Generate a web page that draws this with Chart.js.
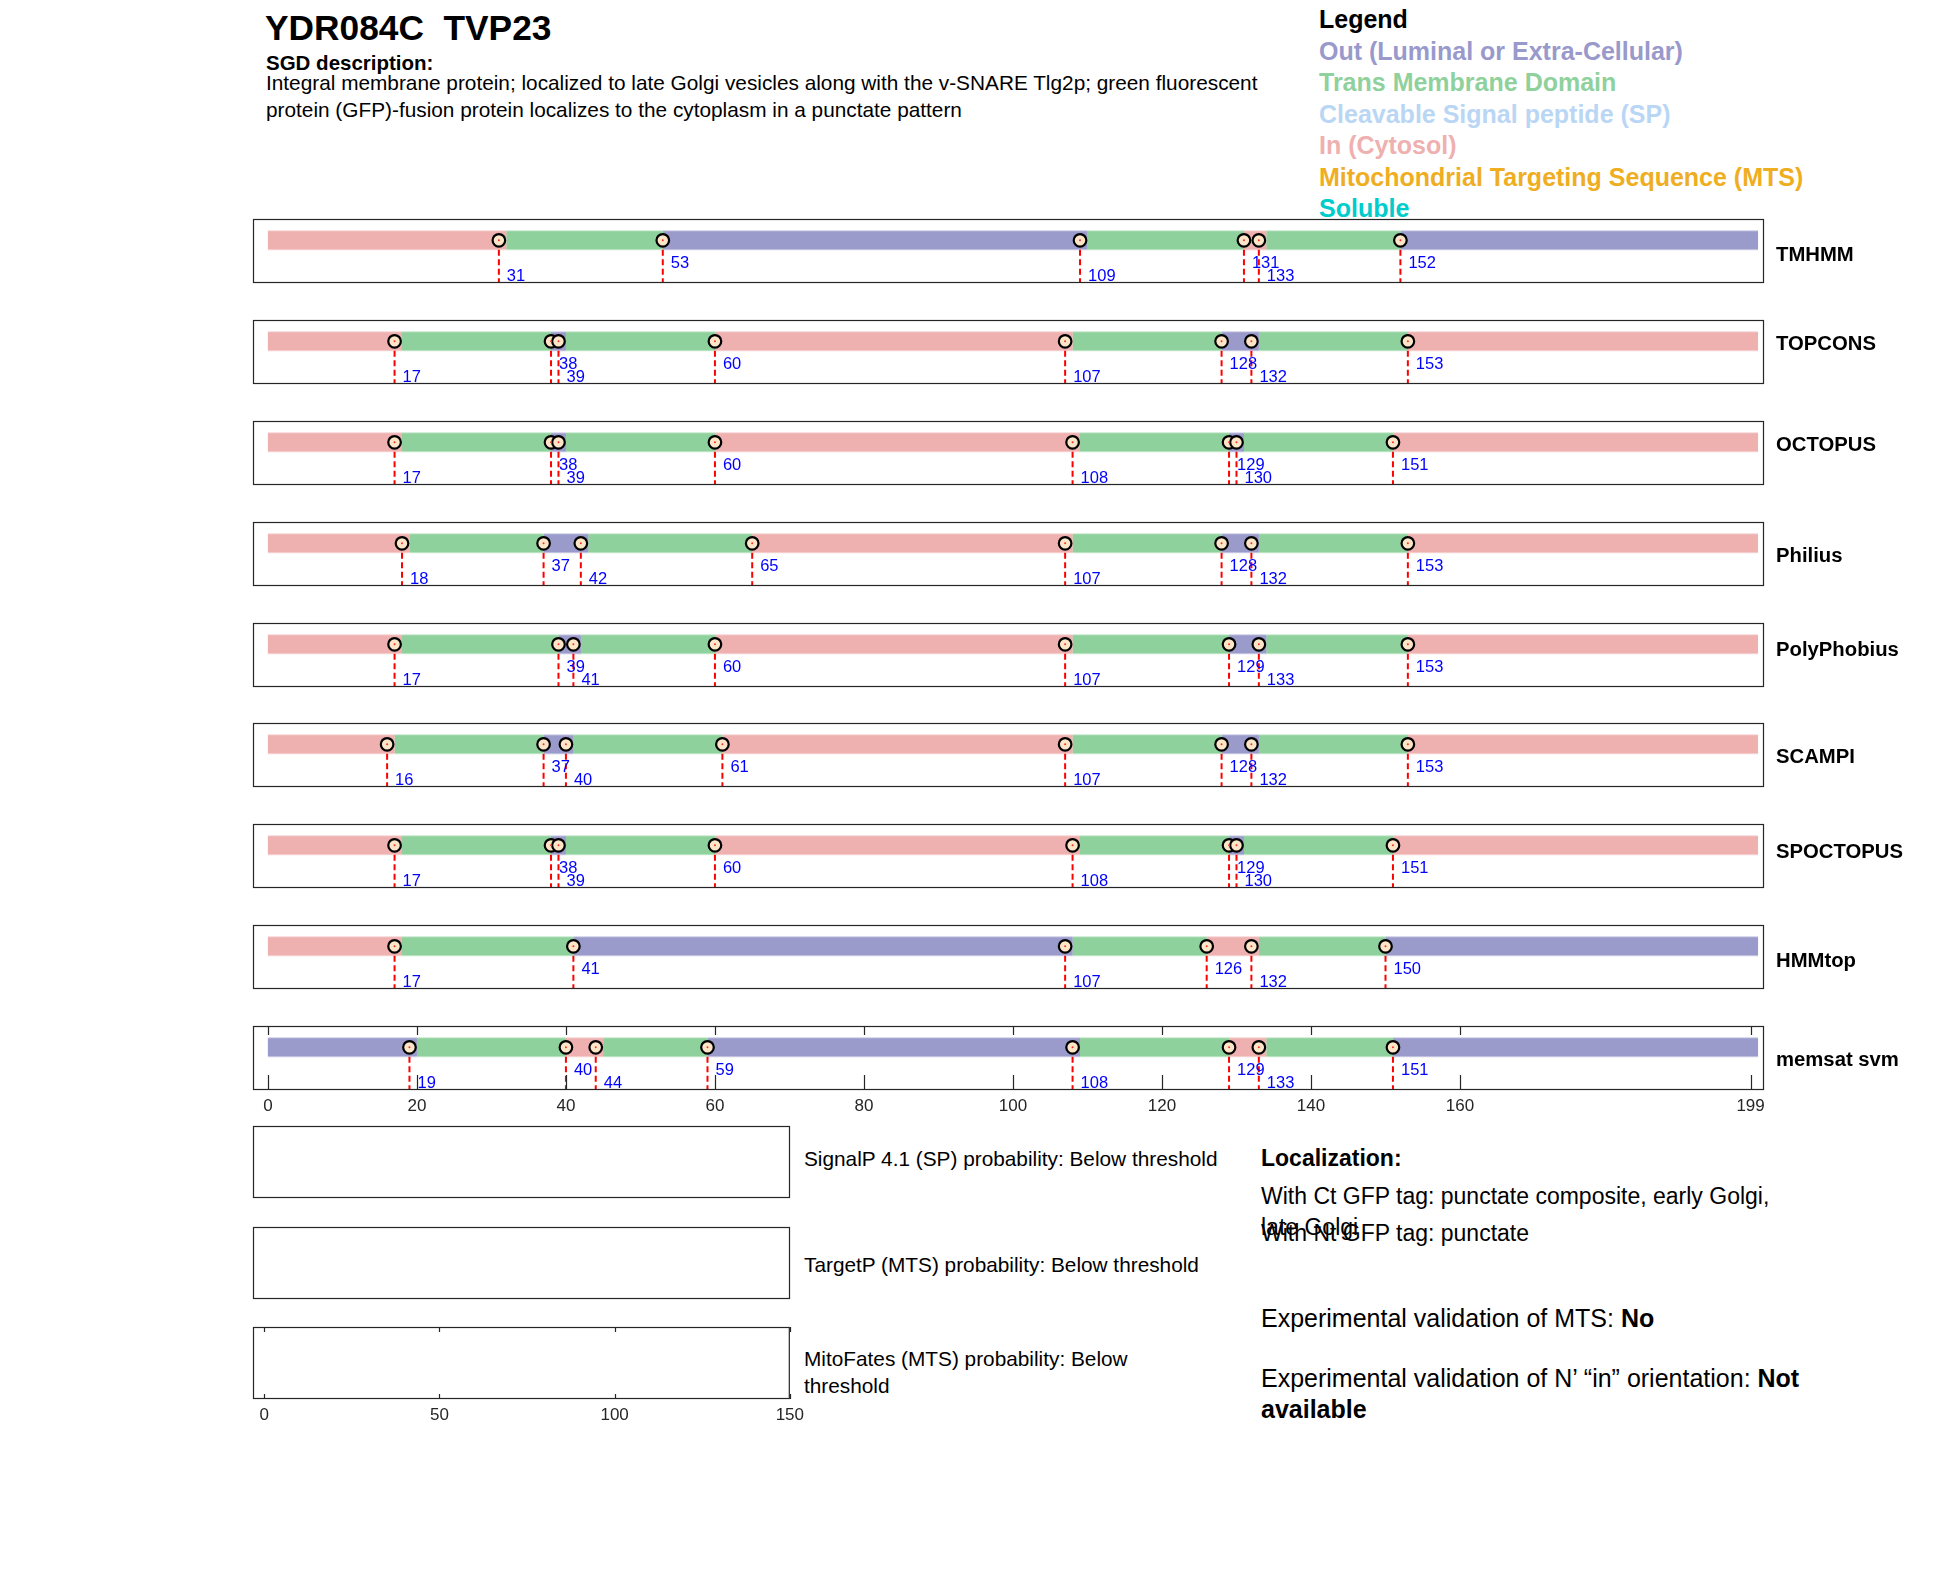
<!DOCTYPE html>
<html>
<head>
<meta charset="utf-8">
<script src="https://cdn.jsdelivr.net/npm/chart.js@4.4.1/dist/chart.umd.min.js"></script>
<style>
  body { margin: 0; background: #fff; }
  #page { position: relative; width: 1950px; height: 1573px; overflow: hidden;
          font-family: "Liberation Sans", Arial, sans-serif; color: #000; }
  .t { position: absolute; white-space: nowrap; line-height: 1; }
  .b { font-weight: bold; }
  canvas { position: absolute; }
</style>
</head>
<body>
<div id="page">
  <div class="t b" style="left:265px;top:10px;font-size:35.3px;">YDR084C&nbsp;&nbsp;TVP23</div>
  <div class="t b" style="left:266px;top:52.5px;font-size:20.5px;">SGD description:</div>
  <div class="t" style="left:266px;top:68.5px;font-size:20.8px;line-height:27px;">Integral membrane protein; localized to late Golgi vesicles along with the v-SNARE Tlg2p; green fluorescent<br>protein (GFP)-fusion protein localizes to the cytoplasm in a punctate pattern</div>

  <div class="t b" style="left:1319px;top:4px;font-size:25px;line-height:31.5px;">
    <div>Legend</div>
    <div style="color:#9999cc">Out (Luminal or Extra-Cellular)</div>
    <div style="color:#8fd19c">Trans Membrane Domain</div>
    <div style="color:#bad6f5">Cleavable Signal peptide (SP)</div>
    <div style="color:#efb0b0">In (Cytosol)</div>
    <div style="color:#efae22">Mitochondrial Targeting Sequence (MTS)</div>
    <div style="color:#00cccc">Soluble</div>
  </div>

  <div class="t" style="left:804px;top:1148.5px;font-size:20.8px;">SignalP 4.1 (SP) probability: Below threshold</div>
  <div class="t" style="left:804px;top:1254.5px;font-size:20.8px;">TargetP (MTS) probability: Below threshold</div>
  <div class="t" style="left:804px;top:1345.3px;font-size:20.8px;line-height:27px;">MitoFates (MTS) probability: Below<br>threshold</div>

  <div class="t b" style="left:1261px;top:1147px;font-size:23px;">Localization:</div>
  <div class="t" style="left:1261px;top:1184.5px;font-size:23px;">With Ct GFP tag: punctate composite, early Golgi,</div>
  <div class="t" style="left:1261px;top:1215.5px;font-size:23px;">late Golgi</div>
  <div class="t" style="left:1261px;top:1221.5px;font-size:23px;">With Nt GFP tag: punctate</div>
  <div class="t" style="left:1261px;top:1306px;font-size:25px;">Experimental validation of MTS: <b>No</b></div>
  <div class="t" style="left:1261px;top:1366px;font-size:25px;">Experimental validation of N’ “in” orientation: <b>Not</b></div>
  <div class="t b" style="left:1261px;top:1397px;font-size:25px;">available</div>
</div>

<script>
// topology predictions, residue positions
const trackNames = ['TMHMM', 'TOPCONS', 'OCTOPUS', 'Philius', 'PolyPhobius', 'SCAMPI', 'SPOCTOPUS', 'HMMtop', 'memsat svm'];

const tmhmmMarks = [31, 53, 109, 131, 133, 152];
const tmhmmEdges = [0, 32, 53, 110, 131, 134, 152, 200];
const tmhmmTypes = ['in', 'tm', 'out', 'tm', 'in', 'tm', 'out'];

const topconsMarks = [17, 38, 39, 60, 107, 128, 132, 153];
const topconsEdges = [0, 18, 38, 40, 60, 108, 128, 133, 153, 200];
const topconsTypes = ['in', 'tm', 'out', 'tm', 'in', 'tm', 'out', 'tm', 'in'];

const octopusMarks = [17, 38, 39, 60, 108, 129, 130, 151];
const octopusEdges = [0, 18, 38, 40, 60, 109, 129, 131, 151, 200];
const octopusTypes = ['in', 'tm', 'out', 'tm', 'in', 'tm', 'out', 'tm', 'in'];

const philiusMarks = [18, 37, 42, 65, 107, 128, 132, 153];
const philiusEdges = [0, 19, 37, 43, 65, 108, 128, 133, 153, 200];
const philiusTypes = ['in', 'tm', 'out', 'tm', 'in', 'tm', 'out', 'tm', 'in'];

const polyphobiusMarks = [17, 39, 41, 60, 107, 129, 133, 153];
const polyphobiusEdges = [0, 18, 39, 42, 60, 108, 129, 134, 153, 200];
const polyphobiusTypes = ['in', 'tm', 'out', 'tm', 'in', 'tm', 'out', 'tm', 'in'];

const scampiMarks = [16, 37, 40, 61, 107, 128, 132, 153];
const scampiEdges = [0, 17, 37, 41, 61, 108, 128, 133, 153, 200];
const scampiTypes = ['in', 'tm', 'out', 'tm', 'in', 'tm', 'out', 'tm', 'in'];

const spoctopusMarks = [17, 38, 39, 60, 108, 129, 130, 151];
const spoctopusEdges = [0, 18, 38, 40, 60, 109, 129, 131, 151, 200];
const spoctopusTypes = ['in', 'tm', 'out', 'tm', 'in', 'tm', 'out', 'tm', 'in'];

const hmmtopMarks = [17, 41, 107, 126, 132, 150];
const hmmtopEdges = [0, 18, 41, 108, 126, 133, 150, 200];
const hmmtopTypes = ['in', 'tm', 'out', 'tm', 'in', 'tm', 'out'];

const memsatMarks = [19, 40, 44, 59, 108, 129, 133, 151];
const memsatEdges = [0, 20, 40, 45, 59, 109, 129, 134, 151, 200];
const memsatTypes = ['out', 'tm', 'in', 'tm', 'out', 'tm', 'in', 'tm', 'out'];

const residueTicks = [0, 20, 40, 60, 80, 100, 120, 140, 160, 199];
const probTicks = [0, 50, 100, 150];

const tracks = [
  [tmhmmMarks, tmhmmEdges, tmhmmTypes],
  [topconsMarks, topconsEdges, topconsTypes],
  [octopusMarks, octopusEdges, octopusTypes],
  [philiusMarks, philiusEdges, philiusTypes],
  [polyphobiusMarks, polyphobiusEdges, polyphobiusTypes],
  [scampiMarks, scampiEdges, scampiTypes],
  [spoctopusMarks, spoctopusEdges, spoctopusTypes],
  [hmmtopMarks, hmmtopEdges, hmmtopTypes],
  [memsatMarks, memsatEdges, memsatTypes]
];

const colors = { in: '#efb0b0', tm: '#8fd19c', out: '#9b9bcb' };
const edgeColors = { in: '#f6d6d6', tm: '#c6e8cc', out: '#cdcde6' };
const FONT = '"Liberation Sans", Arial, sans-serif';

const page = document.getElementById('page');
const panelLeft = 253, panelW = 1511, panelH = 64;
const nameTops = [243.6, 333, 433.7, 545.3, 639.3, 746.3, 841, 950.3, 1049.3];

function makeCanvas(left, top, w, h) {
  const cv = document.createElement('canvas');
  cv.width = w; cv.height = h;
  cv.style.left = left + 'px'; cv.style.top = top + 'px';
  cv.style.width = w + 'px'; cv.style.height = h + 'px';
  page.appendChild(cv);
  return cv;
}

function framePlugin(tickList, topLen, botLen) {
  return {
    id: 'frame',
    afterDraw(chart) {
      const { ctx, chartArea: a, scales: { x } } = chart;
      ctx.save();
      ctx.strokeStyle = '#262626';
      ctx.lineWidth = 1.2;
      if (tickList) {
        ctx.beginPath();
        tickList.forEach(v => {
          const px = Math.round(x.getPixelForValue(v)) + 0.5;
          ctx.moveTo(px, a.top); ctx.lineTo(px, a.top + topLen);
          ctx.moveTo(px, a.bottom); ctx.lineTo(px, a.bottom - botLen);
        });
        ctx.stroke();
      }
      ctx.strokeRect(a.left + 0.5, a.top + 0.5, a.right - a.left - 1, a.bottom - a.top - 1);
      ctx.restore();
    }
  };
}

function labelPlugin(marks) {
  return {
    id: 'markLabels',
    afterDatasetsDraw(chart) {
      const { ctx, chartArea: a, scales: { x } } = chart;
      ctx.save();
      ctx.font = '16.5px ' + FONT;
      ctx.fillStyle = '#0000ff';
      ctx.textBaseline = 'middle';
      marks.forEach((m, k) => {
        ctx.fillText(String(m), x.getPixelForValue(m) + 8, a.top + (k % 2 === 0 ? 57 : 44));
      });
      ctx.restore();
    }
  };
}

function xAxis(min, max, tickList, show) {
  const ax = { type: 'linear', min: min, max: max, display: show };
  if (show) {
    Object.assign(ax, {
      position: 'bottom',
      grid: { display: false, drawTicks: false },
      border: { display: false },
      afterBuildTicks: s => { s.ticks = tickList.map(v => ({ value: v })); },
      afterFit: s => { s.height = 40; },
      ticks: { padding: 6, autoSkip: false, maxRotation: 0, color: '#262626',
               font: { size: 17, family: FONT } }
    });
  }
  return ax;
}

tracks.forEach(([marks, edges, types], i) => {
  const last = i === tracks.length - 1;
  const top = Math.round(219.3 + i * 100.8);
  const cv = makeCanvas(panelLeft - 20, top - 10, panelW + 40, panelH + 10 + (last ? 40 : 10));

  const datasets = [];
  types.forEach((t, k) => {
    const seg = [{ x: edges[k], y: 0 }, { x: edges[k + 1], y: 0 }];
    datasets.push({ data: seg, showLine: true, borderColor: edgeColors[t], borderWidth: 20,
                    borderCapStyle: 'butt', pointRadius: 0, order: 6 });
    datasets.push({ data: seg, showLine: true, borderColor: colors[t], borderWidth: 18,
                    borderCapStyle: 'butt', pointRadius: 0, order: 5 });
  });
  marks.forEach(m => {
    datasets.push({ data: [{ x: m, y: 0 }, { x: m, y: -2 }], showLine: true, borderColor: '#ff0000',
                    borderWidth: 2, borderDash: [6, 3.5], pointRadius: 0, order: 4 });
  });
  datasets.push({ data: marks.map(m => ({ x: m, y: 0 })), pointRadius: 6.3, pointBorderWidth: 2.2,
                  pointBackgroundColor: '#fde6c8', pointBorderColor: '#000000', order: 2 });
  datasets.push({ data: marks.map(m => ({ x: m, y: 0 })), pointRadius: 1, pointBorderWidth: 0,
                  pointBackgroundColor: '#ff3030', order: 1 });

  new Chart(cv.getContext('2d'), {
    type: 'scatter',
    data: { datasets: datasets },
    options: {
      responsive: false, animation: false, devicePixelRatio: 1,
      layout: { padding: { left: 20, right: 20, top: 10, bottom: last ? 0 : 10 } },
      plugins: { legend: { display: false }, tooltip: { enabled: false } },
      scales: {
        x: xAxis(-2, 200.8, residueTicks, last),
        y: { type: 'linear', min: -2, max: 1, display: false }
      }
    },
    plugins: [labelPlugin(marks), framePlugin(last ? residueTicks : null, 9, 15)]
  });

  const nm = document.createElement('div');
  nm.className = 't b';
  nm.style.cssText = 'left:1776px;top:' + nameTops[i] + 'px;font-size:20.3px;';
  nm.textContent = trackNames[i];
  page.appendChild(nm);
});

// SignalP / TargetP / MitoFates probability panels (nothing above threshold)
const probTops = [1126, 1227, 1327];
probTops.forEach((top, i) => {
  const last = i === probTops.length - 1;
  const cv = makeCanvas(panelLeft - 20, top - 10, 537 + 40, 72 + 10 + (last ? 40 : 10));
  new Chart(cv.getContext('2d'), {
    type: 'scatter',
    data: { datasets: [{ data: [] }] },
    options: {
      responsive: false, animation: false, devicePixelRatio: 1,
      layout: { padding: { left: 20, right: 20, top: 10, bottom: last ? 0 : 10 } },
      plugins: { legend: { display: false }, tooltip: { enabled: false } },
      scales: {
        x: xAxis(-3.2, 150, probTicks, last),
        y: { type: 'linear', min: 0, max: 1, display: false }
      }
    },
    plugins: [framePlugin(last ? probTicks : null, 5, 5)]
  });
});
</script>
</body>
</html>
